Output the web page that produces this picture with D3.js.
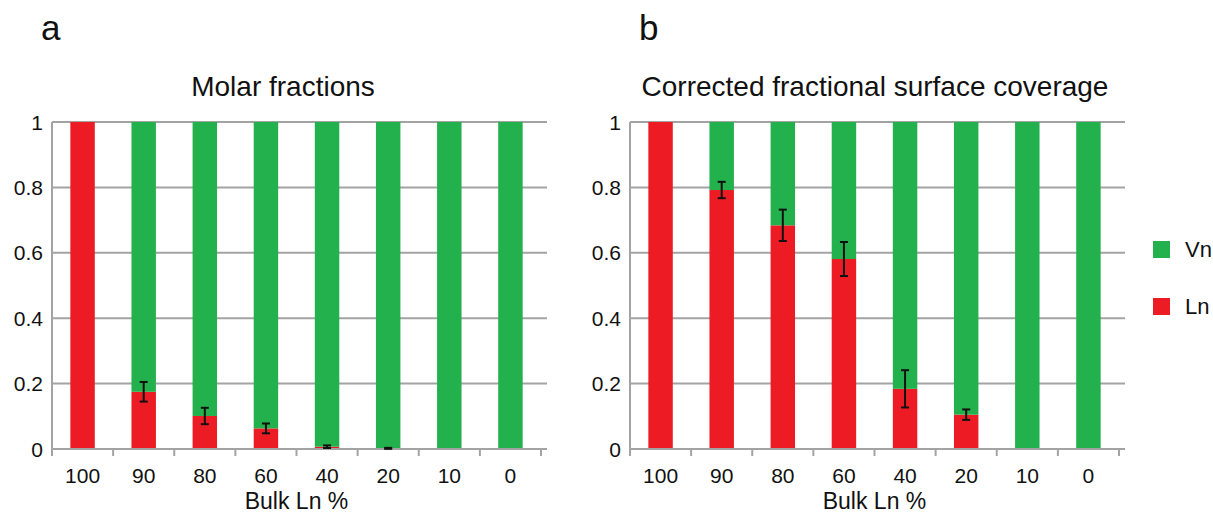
<!DOCTYPE html>
<html>
<head>
<meta charset="utf-8">
<script src="https://cdn.jsdelivr.net/npm/d3@7"></script>
<style>
  body { margin: 0; background: #fff; }
  svg text { font-family: "Liberation Sans", Arial, sans-serif; fill: #111; }
</style>
</head>
<body>
<script>
const width = 1213;
const height = 515;

// data
const categories = ["100", "90", "80", "60", "40", "20", "10", "0"];
const lnMolar = [1, 0.175, 0.101, 0.063, 0.007, 0.002, 0, 0];
const lnMolarErr = [0, 0.03, 0.025, 0.015, 0.004, 0.0015, 0, 0];
const lnCoverage = [1, 0.792, 0.684, 0.581, 0.184, 0.105, 0, 0];
const lnCoverageErr = [0, 0.025, 0.048, 0.052, 0.057, 0.016, 0, 0];
const yTicks = [0, 0.2, 0.4, 0.6, 0.8, 1];
const seriesNames = ["Vn", "Ln"];

const colors = { Vn: "#22b14c", Ln: "#ed1c24" };
const gridColor = "#a3a3a3";

const svg = d3.select("body").append("svg")
    .attr("width", width)
    .attr("height", height);

const y = d3.scaleLinear().domain([0, 1]).range([449, 122]);

function drawPanel(opts) {
    const g = svg.append("g");
    const x = d3.scaleBand()
        .domain(categories)
        .range([opts.x0, opts.x1])
        .paddingInner(0.6)
        .paddingOuter(0.3);
    const bandStep = (opts.x1 - opts.x0) / categories.length;

    // gridlines
    g.selectAll(".grid")
        .data(yTicks.filter(d => d > 0))
        .enter().append("line")
        .attr("x1", opts.x0)
        .attr("x2", opts.xEnd)
        .attr("y1", d => y(d))
        .attr("y2", d => y(d))
        .attr("stroke", gridColor)
        .attr("stroke-width", 2);

    // y labels
    g.selectAll(".ylab")
        .data(yTicks)
        .enter().append("text")
        .attr("x", opts.x0 - 9)
        .attr("y", d => y(d) + 7.5)
        .attr("text-anchor", "end")
        .style("font-size", "21px")
        .text(d => d);

    const rows = categories.map((c, i) => ({ cat: c, Ln: opts.ln[i], Vn: 1 - opts.ln[i], err: opts.err[i] }));
    const stacked = d3.stack().keys(["Ln", "Vn"])(rows);

    g.selectAll(".series")
        .data(stacked)
        .enter().append("g")
        .attr("fill", s => colors[s.key])
        .selectAll("rect")
        .data(s => s)
        .enter().append("rect")
        .attr("x", d => x(d.data.cat))
        .attr("width", x.bandwidth())
        .attr("y", d => y(d[1]))
        .attr("height", d => y(d[0]) - y(d[1]));

    // axes lines
    g.append("line")
        .attr("x1", opts.x0).attr("x2", opts.x0)
        .attr("y1", y(1)).attr("y2", y(0) + 7)
        .attr("stroke", gridColor).attr("stroke-width", 2);
    g.append("line")
        .attr("x1", opts.x0).attr("x2", opts.xEnd)
        .attr("y1", y(0)).attr("y2", y(0))
        .attr("stroke", gridColor).attr("stroke-width", 2);
    g.selectAll(".xtick")
        .data(d3.range(1, categories.length + 1))
        .enter().append("line")
        .attr("x1", i => opts.x0 + i * bandStep)
        .attr("x2", i => opts.x0 + i * bandStep)
        .attr("y1", y(0)).attr("y2", y(0) + 7)
        .attr("stroke", gridColor).attr("stroke-width", 2);

    // error bars
    const eb = g.selectAll(".err")
        .data(rows.filter(d => d.err > 0))
        .enter().append("g")
        .attr("stroke", "#111")
        .attr("stroke-width", 2);
    const cx = d => x(d.cat) + x.bandwidth() / 2;
    eb.append("line")
        .attr("x1", cx).attr("x2", cx)
        .attr("y1", d => y(d.Ln + d.err)).attr("y2", d => y(d.Ln - d.err));
    eb.append("line")
        .attr("x1", d => cx(d) - 4).attr("x2", d => cx(d) + 4)
        .attr("y1", d => y(d.Ln + d.err)).attr("y2", d => y(d.Ln + d.err));
    eb.append("line")
        .attr("x1", d => cx(d) - 4).attr("x2", d => cx(d) + 4)
        .attr("y1", d => y(d.Ln - d.err)).attr("y2", d => y(d.Ln - d.err));

    // x labels
    g.selectAll(".xlab")
        .data(categories)
        .enter().append("text")
        .attr("x", d => x(d) + x.bandwidth() / 2)
        .attr("y", 483)
        .attr("text-anchor", "middle")
        .style("font-size", "21px")
        .text(d => d);

    g.append("text")
        .attr("x", (opts.x0 + opts.x1) / 2)
        .attr("y", 509)
        .attr("text-anchor", "middle")
        .style("font-size", "23px")
        .text("Bulk Ln %");

    g.append("text")
        .attr("x", opts.titleX)
        .attr("y", 96)
        .attr("text-anchor", "middle")
        .style("font-size", "28px")
        .text(opts.title);

    g.append("text")
        .attr("x", opts.letterX)
        .attr("y", 40)
        .style("font-size", "35px")
        .text(opts.letter);
}

drawPanel({ x0: 52, x1: 541, xEnd: 547, ln: lnMolar, err: lnMolarErr,
    title: "Molar fractions", titleX: 283, letter: "a", letterX: 41 });
drawPanel({ x0: 630, x1: 1119, xEnd: 1125, ln: lnCoverage, err: lnCoverageErr,
    title: "Corrected fractional surface coverage", titleX: 875, letter: "b", letterX: 639 });

// legend
const legend = svg.append("g").attr("transform", "translate(1153,241)");
const li = legend.selectAll("g")
    .data(seriesNames)
    .enter().append("g")
    .attr("transform", (d, i) => `translate(0,${i * 57})`);
li.append("rect")
    .attr("width", 17).attr("height", 17)
    .attr("fill", d => colors[d]);
li.append("text")
    .attr("x", 32).attr("y", 16)
    .style("font-size", "22px")
    .text(d => d);
</script>
</body>
</html>
